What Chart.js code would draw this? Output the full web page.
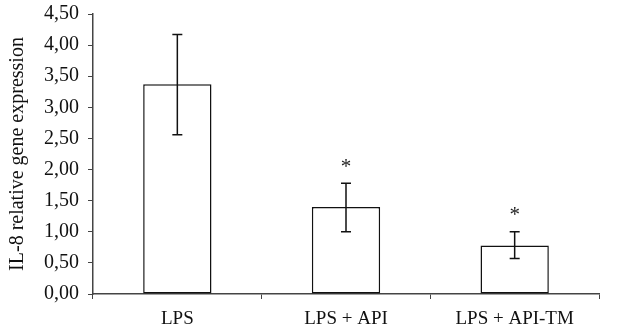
<!DOCTYPE html>
<html>
<head>
<meta charset="utf-8">
<script src="https://cdn.jsdelivr.net/npm/chart.js@4/dist/chart.umd.min.js"></script>
<style>
  html, body { margin: 0; padding: 0; background: #fff; }
  #wrap { width: 622px; height: 331px; }
</style>
</head>
<body>
<div id="wrap"><canvas id="il8Chart" width="622" height="331"></canvas></div>
<script>
// data
const groups = ["LPS", "LPS + API", "LPS + API-TM"];
const meanExpr = [3.37, 1.40, 0.78];
const errLow = [2.56, 1.00, 0.57];
const errHigh = [4.17, 1.78, 1.00];
const marks = ["", "*", "*"];
const yTicks = [0, 0.5, 1, 1.5, 2, 2.5, 3, 3.5, 4, 4.5];

const font = "'Liberation Serif', 'DejaVu Serif', serif";
const axisColor = "#444";

// error bars + significance stars
const errorBars = {
  id: "errorBars",
  afterDatasetsDraw(chart) {
    const { ctx, scales: { x, y } } = chart;
    ctx.save();
    ctx.strokeStyle = "#111";
    ctx.lineWidth = 1.5;
    groups.forEach((g, i) => {
      const cx = x.getPixelForValue(i);
      const top = y.getPixelForValue(errHigh[i]);
      const bot = y.getPixelForValue(errLow[i]);
      ctx.beginPath();
      ctx.moveTo(cx, top); ctx.lineTo(cx, bot);
      ctx.moveTo(cx - 5, top); ctx.lineTo(cx + 5, top);
      ctx.moveTo(cx - 5, bot); ctx.lineTo(cx + 5, bot);
      ctx.stroke();
      if (marks[i]) {
        ctx.fillStyle = "#222";
        ctx.font = "21px " + font;
        ctx.textAlign = "center";
        ctx.textBaseline = "middle";
        ctx.fillText(marks[i], cx, top - 16);
      }
    });
    ctx.restore();
  }
};

new Chart(document.getElementById("il8Chart").getContext("2d"), {
  type: "bar",
  data: {
    labels: groups,
    datasets: [{
      data: meanExpr,
      backgroundColor: "#fff",
      borderColor: "#111",
      borderWidth: 1.5,
      borderSkipped: false,
      categoryPercentage: 1,
      barPercentage: 0.405
    }]
  },
  options: {
    responsive: false,
    animation: false,
    layout: { padding: { top: 14, right: 23, left: 0, bottom: 0 } },
    plugins: { legend: { display: false }, tooltip: { enabled: false } },
    scales: {
      x: {
        grid: { offset: true, drawOnChartArea: false, drawTicks: true, tickLength: 5, color: axisColor },
        border: { color: axisColor, width: 1.5 },
        ticks: { color: "#111", font: { family: font, size: 19 }, padding: 9 },
        afterFit(s) { s.height = 37; }
      },
      y: {
        min: 0,
        max: 4.5,
        afterBuildTicks(s) { s.ticks = yTicks.map(v => ({ value: v })); },
        grid: { drawOnChartArea: false, tickLength: 5, color: axisColor },
        border: { color: axisColor, width: 1.5 },
        ticks: {
          color: "#111",
          font: { family: font, size: 20 },
          padding: 9,
          callback: v => v.toFixed(2).replace(".", ",")
        },
        title: {
          display: true,
          text: "IL-8 relative gene expression",
          color: "#111",
          font: { family: font, size: 20 },
          padding: { top: 6, bottom: 4 }
        },
        afterFit(s) { s.width = 93; s.paddingTop = 0; s.paddingBottom = 0; }
      }
    }
  },
  plugins: [errorBars]
});
</script>
</body>
</html>
